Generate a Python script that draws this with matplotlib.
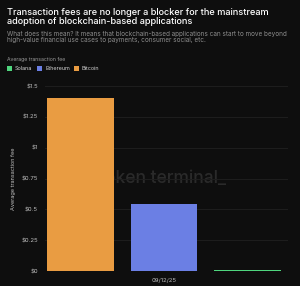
import matplotlib
matplotlib.use('Agg')
import matplotlib.pyplot as plt
from matplotlib.patches import Rectangle

plt.rcParams['font.family'] = ['Inter', 'DejaVu Sans']

# Data
chains = ['Bitcoin', 'Ethereum', 'Solana']
fees = [1.40, 0.54, 0.006]
colors = ['#E99C42', '#6B7FE4', '#4FD67E']
date_label = '09/12/25'
yticks = [0, 0.25, 0.5, 0.75, 1.0, 1.25, 1.5]
ytick_labels = ['$0', '$0.25', '$0.5', '$0.75', '$1', '$1.25', '$1.5']

bg = '#0e0e0e'
fig = plt.figure(figsize=(3.0, 2.86), dpi=100, facecolor=bg)
ax = fig.add_axes([0.15, 0.0524, 0.81, 0.6468], facecolor=bg)

x = range(len(chains))
ax.bar(x, fees, width=0.8, color=colors, zorder=3)
ax.set_xlim(-0.43, 2.49)
ax.set_ylim(0, 1.5)

ax.set_yticks(yticks)
ax.set_yticklabels(ytick_labels)
ax.set_xticks([1])
ax.set_xticklabels([date_label])
ax.tick_params(axis='both', length=0, colors='#bdbdbd', labelsize=4.3, pad=5)
ax.grid(axis='y', color='#1e1e1e', linewidth=0.7, zorder=0)
for s in ax.spines.values():
    s.set_visible(False)
ax.set_ylabel('Average transaction fee', color='#bdbdbd', fontsize=4.0, labelpad=4)

# watermark
ax.text(0.485, 0.5, 'token terminal_', transform=ax.transAxes, ha='center', va='center',
        fontsize=12.5, color='#2a2a2a', fontweight='medium', zorder=1)

# title and subtitle
fig.text(7/300, 1-8/286, 'Transaction fees are no longer a blocker for the mainstream\nadoption of blockchain-based applications',
         ha='left', va='top', fontsize=6.6, color='white', fontweight='medium', linespacing=1.0)
fig.text(7/300, 1-31/286, 'What does this mean? It means that blockchain-based applications can start to move beyond\nhigh-value financial use cases to payments, consumer social, etc.',
         ha='left', va='top', fontsize=4.6, color='#8c8c8c', linespacing=1.05)

# legend
fig.text(7/300, 1-59/286, 'Average transaction fee', ha='left', va='center', fontsize=3.7, color='#9a9a9a')
leg_items = [('Solana', '#4FD67E', 7), ('Ethereum', '#6B7FE4', 37), ('Bitcoin', '#E99C42', 74)]
for name, c, px in leg_items:
    fig.patches.append(Rectangle((px/300, 1-71/286), 5/300, 5/286, transform=fig.transFigure,
                                 facecolor=c, edgecolor='none'))
    fig.text((px+8)/300, 1-68.5/286, name, ha='left', va='center', fontsize=4.0, color='#d0d0d0')

plt.savefig('out.png', dpi=100, facecolor=bg)
